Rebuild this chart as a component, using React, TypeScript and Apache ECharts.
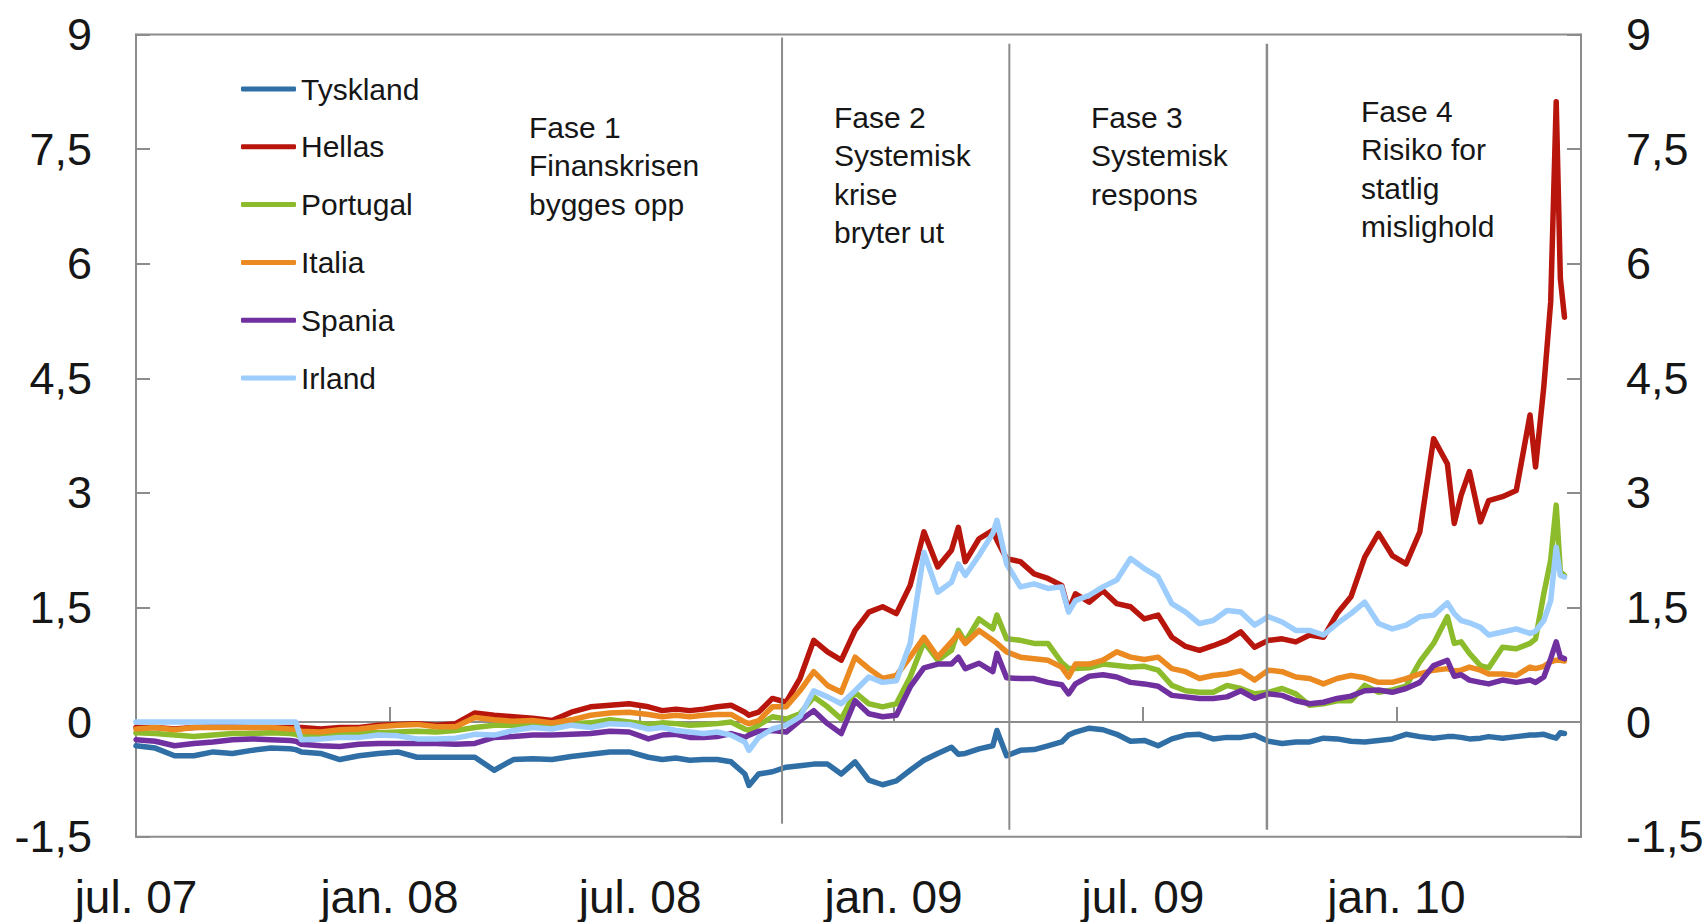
import React, { useEffect, useRef } from "react";
import * as echarts from "echarts";

const dates = [
  "2007-07-01","2007-07-15","2007-07-29","2007-08-12","2007-08-26","2007-09-09","2007-09-23","2007-10-07","2007-10-21","2007-10-25",
  "2007-10-29","2007-11-12","2007-11-26","2007-12-10","2007-12-24","2008-01-07","2008-01-21","2008-02-04","2008-02-18","2008-03-03",
  "2008-03-17","2008-03-31","2008-04-14","2008-04-28","2008-05-12","2008-05-26","2008-06-09","2008-06-23","2008-07-07",
  "2008-07-17","2008-07-27","2008-08-06","2008-08-16","2008-08-26","2008-09-05","2008-09-15","2008-09-18","2008-09-25","2008-10-05",
  "2008-10-15","2008-10-25","2008-11-04","2008-11-14","2008-11-24","2008-12-04","2008-12-14","2008-12-24","2009-01-03","2009-01-13",
  "2009-01-23","2009-02-02","2009-02-12","2009-02-17","2009-02-22","2009-03-04","2009-03-14","2009-03-17","2009-03-24","2009-04-03",
  "2009-04-13","2009-04-23","2009-05-03","2009-05-08","2009-05-13","2009-05-23","2009-06-02","2009-06-12","2009-06-22","2009-07-02",
  "2009-07-12","2009-07-22","2009-08-01","2009-08-11","2009-08-21","2009-08-31","2009-09-10","2009-09-20","2009-09-30","2009-10-10",
  "2009-10-20","2009-10-30","2009-11-09","2009-11-19","2009-11-29","2009-12-09","2009-12-19","2009-12-29","2010-01-08","2010-01-18",
  "2010-01-28","2010-02-07","2010-02-12","2010-02-17","2010-02-23","2010-03-03","2010-03-09","2010-03-19","2010-03-29","2010-04-08",
  "2010-04-12","2010-04-18","2010-04-23","2010-04-27","2010-04-30","2010-05-03",
];

const tyskland = [
  -0.31,-0.34,-0.44,-0.44,-0.39,-0.41,-0.37,-0.34,-0.35,-0.36,
  -0.39,-0.41,-0.49,-0.44,-0.41,-0.39,-0.46,-0.46,-0.46,-0.46,
  -0.63,-0.49,-0.48,-0.49,-0.45,-0.42,-0.39,-0.39,-0.46,
  -0.49,-0.47,-0.50,-0.49,-0.49,-0.52,-0.68,-0.83,-0.68,-0.65,
  -0.59,-0.57,-0.55,-0.55,-0.68,-0.52,-0.76,-0.82,-0.77,-0.63,
  -0.50,-0.41,-0.33,-0.42,-0.41,-0.35,-0.31,-0.11,-0.44,-0.37,
  -0.36,-0.31,-0.26,-0.17,-0.13,-0.08,-0.10,-0.16,-0.25,-0.24,
  -0.31,-0.22,-0.17,-0.16,-0.22,-0.20,-0.20,-0.17,-0.25,-0.28,
  -0.26,-0.26,-0.21,-0.22,-0.25,-0.26,-0.24,-0.22,-0.16,-0.19,
  -0.21,-0.19,-0.19,-0.20,-0.22,-0.21,-0.19,-0.21,-0.19,-0.17,
  -0.17,-0.16,-0.19,-0.21,-0.14,-0.15,
];

const hellas = [
  -0.07,-0.07,-0.09,-0.07,-0.06,-0.06,-0.07,-0.07,-0.07,-0.07,
  -0.07,-0.09,-0.07,-0.07,-0.04,-0.03,-0.02,-0.04,-0.02,0.12,
  0.09,0.07,0.05,0.02,0.13,0.20,0.22,0.24,0.20,
  0.15,0.17,0.15,0.17,0.20,0.22,0.13,0.09,0.13,0.31,
  0.26,0.57,1.07,0.92,0.81,1.20,1.44,1.51,1.42,1.79,
  2.49,2.03,2.25,2.55,2.10,2.40,2.51,2.38,2.14,2.10,
  1.94,1.88,1.79,1.46,1.68,1.57,1.72,1.55,1.51,1.35,
  1.40,1.11,0.99,0.94,1.00,1.07,1.18,0.98,1.07,1.09,
  1.05,1.14,1.11,1.42,1.64,2.16,2.47,2.18,2.07,2.49,
  3.71,3.38,2.60,2.97,3.28,2.62,2.90,2.95,3.03,4.02,
  3.34,4.39,5.50,8.12,5.81,5.30,
];

const portugal = [
  -0.14,-0.15,-0.17,-0.19,-0.17,-0.15,-0.15,-0.14,-0.15,-0.16,
  -0.19,-0.17,-0.15,-0.14,-0.14,-0.13,-0.12,-0.13,-0.11,-0.07,
  -0.04,-0.04,-0.03,-0.04,-0.02,-0.01,0.03,0.00,-0.03,
  -0.01,-0.02,-0.04,-0.03,-0.02,0.00,-0.09,-0.11,-0.04,0.07,
  0.04,0.11,0.33,0.20,0.04,0.39,0.24,0.20,0.24,0.59,
  1.05,0.81,0.94,1.20,1.05,1.35,1.22,1.40,1.09,1.07,
  1.03,1.03,0.78,0.70,0.70,0.71,0.76,0.74,0.72,0.73,
  0.68,0.48,0.41,0.39,0.39,0.48,0.44,0.37,0.39,0.44,
  0.37,0.22,0.24,0.28,0.28,0.48,0.39,0.42,0.47,0.79,
  1.03,1.38,1.03,1.05,0.90,0.74,0.71,0.98,0.96,1.03,
  1.09,1.68,2.12,2.84,1.97,1.92,
];

const italia = [
  -0.09,-0.07,-0.10,-0.07,-0.07,-0.07,-0.07,-0.07,-0.09,-0.09,
  -0.12,-0.13,-0.10,-0.09,-0.06,-0.04,-0.03,-0.06,-0.06,0.06,
  0.03,0.01,0.02,-0.01,0.03,0.09,0.12,0.13,0.10,
  0.07,0.09,0.07,0.09,0.10,0.10,0.00,-0.02,0.02,0.20,
  0.20,0.41,0.66,0.48,0.39,0.85,0.70,0.57,0.61,0.85,
  1.11,0.85,1.05,1.16,1.03,1.20,1.07,1.03,0.92,0.85,
  0.83,0.81,0.72,0.59,0.76,0.76,0.81,0.92,0.85,0.82,
  0.85,0.70,0.66,0.57,0.61,0.63,0.67,0.55,0.68,0.66,
  0.59,0.57,0.50,0.57,0.61,0.58,0.52,0.52,0.57,0.63,
  0.68,0.70,0.67,0.68,0.72,0.68,0.63,0.63,0.61,0.72,
  0.70,0.73,0.79,0.81,0.81,0.80,
];

const spania = [
  -0.23,-0.25,-0.31,-0.28,-0.26,-0.23,-0.22,-0.23,-0.24,-0.25,
  -0.29,-0.31,-0.32,-0.29,-0.28,-0.28,-0.28,-0.28,-0.29,-0.28,
  -0.20,-0.19,-0.17,-0.17,-0.16,-0.15,-0.12,-0.13,-0.22,
  -0.17,-0.16,-0.20,-0.20,-0.19,-0.15,-0.20,-0.17,-0.12,-0.11,
  -0.13,0.02,0.15,-0.02,-0.15,0.28,0.11,0.07,0.09,0.46,
  0.71,0.76,0.76,0.85,0.70,0.77,0.66,0.90,0.58,0.57,
  0.57,0.52,0.49,0.37,0.50,0.60,0.62,0.59,0.52,0.50,
  0.47,0.35,0.33,0.31,0.31,0.33,0.41,0.31,0.37,0.35,
  0.28,0.24,0.26,0.31,0.34,0.41,0.42,0.39,0.44,0.52,
  0.74,0.81,0.60,0.62,0.55,0.52,0.50,0.55,0.52,0.55,
  0.52,0.59,0.83,1.05,0.85,0.83,
];

const irland = [
  0,0,0,0,0,0,0,0,0,0,
  -0.23,-0.22,-0.20,-0.20,-0.17,-0.18,-0.22,-0.22,-0.21,-0.16,
  -0.17,-0.11,-0.07,-0.09,-0.04,-0.07,-0.02,-0.03,-0.09,
  -0.07,-0.11,-0.13,-0.15,-0.13,-0.17,-0.26,-0.37,-0.20,-0.09,
  -0.04,0.07,0.41,0.33,0.24,0.41,0.59,0.52,0.54,1.03,
  2.22,1.70,1.83,2.07,1.92,2.18,2.47,2.64,2.07,1.77,
  1.81,1.75,1.77,1.44,1.59,1.66,1.77,1.86,2.14,2.01,
  1.90,1.55,1.44,1.29,1.33,1.46,1.44,1.27,1.38,1.31,
  1.20,1.20,1.14,1.29,1.42,1.57,1.29,1.22,1.27,1.38,
  1.40,1.56,1.42,1.33,1.30,1.24,1.14,1.18,1.22,1.16,
  1.19,1.33,1.59,2.29,1.92,1.90,
];

const seriesNames = ["Tyskland", "Hellas", "Portugal", "Italia", "Spania", "Irland"];
const seriesValues = [tyskland, hellas, portugal, italia, spania, irland];
const seriesColors = ["#2f6fa6", "#b8150c", "#8cbb2c", "#ea8a20", "#7130a0", "#9ccdfd"];

const xTickDates = ["2007-07-01", "2008-01-01", "2008-07-01", "2009-01-01", "2009-07-01", "2010-01-01"];
const xMin = "2007-07-01";
const xMax = "2010-05-15";

const phaseDates = ["2008-10-12", "2009-03-26", "2009-09-29"];
const phaseTop = [8.96, 8.88, 8.88];
const phaseBottom = [-1.33, -1.41, -1.41];

const phaseTexts = [
  "Fase 1\nFinanskrisen\nbygges opp",
  "Fase 2\nSystemisk\nkrise\nbryter ut",
  "Fase 3\nSystemisk\nrespons",
  "Fase 4\nRisiko for\nstatlig\nmislighold",
];

const FONT = "'Liberation Sans', Arial, sans-serif";
const GREY = "#8c8c8c";
const TXT = "#161616";

function toTs(s: string) {
  const [y, m, d] = s.split("-").map(Number);
  return new Date(y, m - 1, d).getTime();
}

export default function App() {
  const ref = useRef<HTMLDivElement>(null);
  useEffect(() => {
    if (!ref.current) return;
    const chart = echarts.init(ref.current, undefined, { renderer: "svg" });

    const mainSeries = seriesNames.map((name, k) => ({
      name,
      type: "line",
      data: dates.map((d, i) => [toTs(d), seriesValues[k][i]]),
      showSymbol: false,
      symbol: "none",
      itemStyle: { color: seriesColors[k] },
      lineStyle: { width: 5.5, color: seriesColors[k], cap: "round", join: "round" },
      z: 3 + k,
      silent: true,
    }));

    const zeroLine = {
      name: "zero",
      type: "line",
      data: [[toTs(xMin), 0], [toTs(xMax), 0]],
      showSymbol: false,
      symbol: "none",
      lineStyle: { width: 2, color: GREY },
      z: 2,
      silent: true,
    };

    const phaseSeries = phaseDates.map((d, i) => ({
      name: "phase" + i,
      type: "line",
      data: [[toTs(d), phaseTop[i]], [toTs(d), phaseBottom[i]]],
      showSymbol: false,
      symbol: "none",
      lineStyle: { width: i === 2 ? 2.5 : 2, color: GREY },
      z: 20,
      silent: true,
    }));

    const yLabelFmt = (v: number) => String(v).replace(".", ",");
    const yAxisBase = {
      type: "value",
      min: -1.5,
      max: 9,
      interval: 1.5,
      axisLine: { show: true, lineStyle: { color: GREY, width: 2 } },
      axisTick: { show: true, inside: true, length: 14, lineStyle: { color: GREY, width: 2 } },
      splitLine: { show: false },
      axisLabel: { fontSize: 45, color: TXT, fontFamily: FONT, formatter: yLabelFmt },
    };

    const tickTs = xTickDates.map(toTs);

    const textPos = [
      { x: 529, y: 108 },
      { x: 834, y: 98 },
      { x: 1091, y: 98 },
      { x: 1361, y: 92 },
    ];

    chart.setOption({
      animation: false,
      backgroundColor: "#ffffff",
      grid: {
        left: 136,
        right: 126,
        top: 34.5,
        bottom: 85.3,
        show: true,
        borderColor: GREY,
        borderWidth: 2,
        backgroundColor: "transparent",
      },
      legend: {
        data: seriesNames,
        orient: "vertical",
        left: 241,
        top: 74,
        padding: 0,
        icon: "roundRect",
        itemWidth: 55,
        itemHeight: 5,
        itemGap: 27.8,
        textStyle: { fontSize: 30, lineHeight: 30, color: TXT, fontFamily: FONT },
        selectedMode: false,
      },
      xAxis: {
        type: "value",
        min: toTs(xMin),
        max: toTs(xMax),
        axisLine: { show: true, lineStyle: { color: GREY, width: 2 } },
        axisTick: {
          show: true,
          inside: true,
          length: 15,
          customValues: tickTs,
          lineStyle: { color: GREY, width: 2 },
        },
        splitLine: { show: false },
        axisLabel: {
          customValues: tickTs,
          margin: 37,
          fontSize: 46,
          color: TXT,
          fontFamily: FONT,
          showMinLabel: true,
          showMaxLabel: true,
          formatter: (v: number) => {
            const d = new Date(v);
            const m = d.getMonth();
            const yy = String(d.getFullYear()).slice(2);
            return (m === 0 ? "jan. " : "jul. ") + yy;
          },
        },
      },
      yAxis: [
        { ...yAxisBase, position: "left", axisLabel: { ...yAxisBase.axisLabel, margin: 44 } },
        { ...yAxisBase, position: "right", axisLabel: { ...yAxisBase.axisLabel, margin: 45 } },
      ],
      graphic: phaseTexts.map((t, i) => ({
        type: "text",
        x: textPos[i].x,
        y: textPos[i].y,
        z: 30,
        style: {
          text: t,
          fontSize: 30,
          lineHeight: 38.5,
          fontFamily: FONT,
          fill: TXT,
          verticalAlign: "top",
          align: "left",
        },
      })),
      series: [zeroLine, ...mainSeries, ...phaseSeries],
    });

    return () => chart.dispose();
  }, []);

  return (
    <div
      ref={ref}
      style={{ position: "absolute", left: 0, top: 0, width: 1707, height: 922, background: "#fff" }}
    />
  );
}
